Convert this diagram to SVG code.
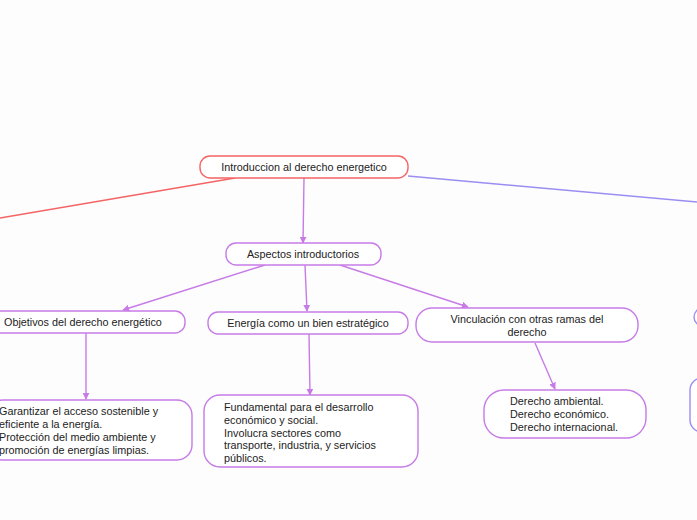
<svg xmlns="http://www.w3.org/2000/svg" width="697" height="520" viewBox="0 0 697 520">
<defs>
<style>
.n{fill:#ffffff;stroke-width:1.4}
.r{stroke:#f46464}
.p{stroke:#c77be6}
.b{stroke:#9a8ef2}
.t{font-family:"Liberation Sans","Noto Sans",sans-serif;font-size:10.8px;fill:#222}
.c{text-anchor:middle}
.e{fill:none;stroke-width:1.4}
</style>
<marker id="ah" viewBox="0 0 10 10" refX="9" refY="5" markerWidth="7" markerHeight="7" orient="auto" markerUnits="userSpaceOnUse">
<path d="M0,0 L10,5 L0,10 z" fill="#c77be6"/>
</marker>
</defs>
<rect width="697" height="520" fill="#fdfdfd"/>
<g id="connectors">
<line class="e r" x1="235" y1="178" x2="0" y2="218"/>
<line class="e b" x1="408" y1="176" x2="697" y2="202"/>
<line class="e p" x1="304" y1="178" x2="303" y2="243" marker-end="url(#ah)"/>
<line class="e p" x1="265" y1="265" x2="123" y2="310" marker-end="url(#ah)"/>
<line class="e p" x1="305" y1="265" x2="307" y2="311" marker-end="url(#ah)"/>
<line class="e p" x1="340" y1="265" x2="468" y2="307" marker-end="url(#ah)"/>
<line class="e p" x1="86" y1="333" x2="86" y2="399" marker-end="url(#ah)"/>
<line class="e p" x1="309" y1="334" x2="310" y2="395" marker-end="url(#ah)"/>
<line class="e p" x1="535" y1="343" x2="555" y2="389" marker-end="url(#ah)"/>
</g>
<g id="root">
<rect class="n r" x="200" y="156" width="208" height="22" rx="10"/>
<text class="t c" x="304" y="171">Introduccion al derecho energetico</text>
</g>
<g id="aspectos">
<rect class="n p" x="226" y="243" width="155" height="22" rx="10"/>
<text class="t c" x="303" y="258">Aspectos introductorios</text>
</g>
<g id="objetivos">
<rect class="n p" x="-12" y="311" width="197" height="22" rx="10"/>
<text class="t" x="4" y="326">Objetivos del derecho energético</text>
</g>
<g id="energia">
<rect class="n p" x="208" y="312" width="200" height="22" rx="10"/>
<text class="t c" x="308" y="327">Energía como un bien estratégico</text>
</g>
<g id="vinculacion">
<rect class="n p" x="416" y="308" width="222" height="34" rx="16"/>
<text class="t c" x="527" y="322.5">Vinculación con otras ramas del</text>
<text class="t c" x="527" y="335.5">derecho</text>
</g>
<g id="objetivos-det">
<rect class="n p" x="-12" y="400" width="204" height="60" rx="15"/>
<text class="t" x="-1" y="415">Garantizar el acceso sostenible y</text>
<text class="t" x="-1" y="428">eficiente a la energía.</text>
<text class="t" x="-1" y="441">Protección del medio ambiente y</text>
<text class="t" x="-1" y="454">promoción de energías limpias.</text>
</g>
<g id="energia-det">
<rect class="n p" x="204" y="395" width="214" height="72" rx="16"/>
<text class="t" x="224" y="411">Fundamental para el desarrollo</text>
<text class="t" x="224" y="423.8">económico y social.</text>
<text class="t" x="224" y="436.6">Involucra sectores como</text>
<text class="t" x="224" y="449.4">transporte, industria, y servicios</text>
<text class="t" x="224" y="462.2">públicos.</text>
</g>
<g id="vinculacion-det">
<rect class="n p" x="484" y="390" width="162" height="48" rx="20"/>
<text class="t" x="510" y="405">Derecho ambiental.</text>
<text class="t" x="510" y="418">Derecho económico.</text>
<text class="t" x="510" y="431">Derecho internacional.</text>
</g>
<g id="right-node-1">
<rect class="n b" x="694" y="308" width="40" height="18" rx="9"/>
</g>
<g id="right-node-2">
<rect class="n b" x="690" y="378" width="60" height="54" rx="12"/>
</g>
</svg>
